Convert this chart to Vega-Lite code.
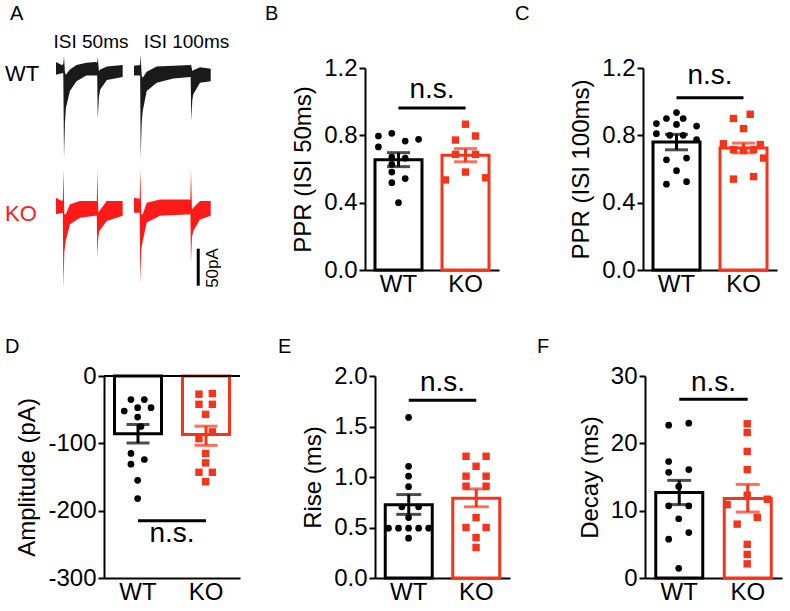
{
"$schema":"https://vega.github.io/schema/vega-lite/v6.json",
"padding":{"left":5,"top":4,"right":5,"bottom":5},
"background":"white",
"config":{"font":"Liberation Sans","view":{"stroke":null},
 "axis":{"domainColor":"black","domainWidth":2,"tickColor":"black","tickWidth":2,"tickSize":6,"labelFontSize":24,"labelColor":"black","titleFontSize":24,"titleFontWeight":"normal","titleColor":"black","grid":false,"labelPadding":2},
 "axisX":{"ticks":false,"labelAngle":0,"labelPadding":2},
 "axisY":{"titlePadding":8},
 "title":{"fontSize":20,"fontWeight":"normal","color":"black","anchor":"start","frame":"group","baseline":"alphabetic"}},
"datasets":{
"summ":[
{"p":"B","g":"WT","mean":0.655,"lo":0.614,"hi":0.697},{"p":"B","g":"KO","mean":0.682,"lo":0.643,"hi":0.721},
{"p":"C","g":"WT","mean":0.76,"lo":0.714,"hi":0.806},{"p":"C","g":"KO","mean":0.725,"lo":0.696,"hi":0.754},
{"p":"D","g":"WT","mean":-85.6,"lo":-99.5,"hi":-72},{"p":"D","g":"KO","mean":-87,"lo":-103,"hi":-74.5},
{"p":"E","g":"WT","mean":0.725,"lo":0.63,"hi":0.826},{"p":"E","g":"KO","mean":0.79,"lo":0.705,"hi":0.882},
{"p":"F","g":"WT","mean":12.7,"lo":10.9,"hi":14.5},{"p":"F","g":"KO","mean":11.8,"lo":9.8,"hi":13.9}],
"points":[
{"p":"B","g":"WT","v":0.796,"col":-6},{"p":"B","g":"WT","v":0.812,"col":-2},{"p":"B","g":"WT","v":0.766,"col":2},{"p":"B","g":"WT","v":0.776,"col":6},{"p":"B","g":"WT","v":0.731,"col":-6},{"p":"B","g":"WT","v":0.671,"col":-2},{"p":"B","g":"WT","v":0.664,"col":2},{"p":"B","g":"WT","v":0.628,"col":-2},{"p":"B","g":"WT","v":0.582,"col":-2},{"p":"B","g":"WT","v":0.519,"col":-2},{"p":"B","g":"WT","v":0.543,"col":2},{"p":"B","g":"WT","v":0.40,"col":0},
{"p":"B","g":"KO","v":0.866,"col":0},{"p":"B","g":"KO","v":0.772,"col":-3},{"p":"B","g":"KO","v":0.796,"col":3},{"p":"B","g":"KO","v":0.687,"col":-3},{"p":"B","g":"KO","v":0.687,"col":3},{"p":"B","g":"KO","v":0.582,"col":0},{"p":"B","g":"KO","v":0.535,"col":-6},{"p":"B","g":"KO","v":0.548,"col":6},
{"p":"C","g":"WT","v":0.935,"col":0},{"p":"C","g":"WT","v":0.90,"col":-3},{"p":"C","g":"WT","v":0.90,"col":2},{"p":"C","g":"WT","v":0.87,"col":-6},{"p":"C","g":"WT","v":0.865,"col":0},{"p":"C","g":"WT","v":0.855,"col":6},{"p":"C","g":"WT","v":0.81,"col":-6},{"p":"C","g":"WT","v":0.80,"col":-2},{"p":"C","g":"WT","v":0.80,"col":2},{"p":"C","g":"WT","v":0.775,"col":6},{"p":"C","g":"WT","v":0.655,"col":-3},{"p":"C","g":"WT","v":0.665,"col":3},{"p":"C","g":"WT","v":0.59,"col":0},{"p":"C","g":"WT","v":0.51,"col":-3},{"p":"C","g":"WT","v":0.525,"col":3},
{"p":"C","g":"KO","v":0.925,"col":2},{"p":"C","g":"KO","v":0.90,"col":-3},{"p":"C","g":"KO","v":0.84,"col":0},{"p":"C","g":"KO","v":0.75,"col":-6},{"p":"C","g":"KO","v":0.745,"col":5},{"p":"C","g":"KO","v":0.715,"col":-3},{"p":"C","g":"KO","v":0.71,"col":0},{"p":"C","g":"KO","v":0.715,"col":3},{"p":"C","g":"KO","v":0.665,"col":6},{"p":"C","g":"KO","v":0.54,"col":-3},{"p":"C","g":"KO","v":0.555,"col":3},
{"p":"D","g":"WT","v":-35,"col":-2},{"p":"D","g":"WT","v":-35,"col":2},{"p":"D","g":"WT","v":-52,"col":-4},{"p":"D","g":"WT","v":-47,"col":0},{"p":"D","g":"WT","v":-47,"col":4},{"p":"D","g":"WT","v":-61,"col":0},{"p":"D","g":"WT","v":-75,"col":1},{"p":"D","g":"WT","v":-115,"col":-2},{"p":"D","g":"WT","v":-124,"col":2},{"p":"D","g":"WT","v":-131,"col":-2},{"p":"D","g":"WT","v":-155,"col":0},{"p":"D","g":"WT","v":-182,"col":0},
{"p":"D","g":"KO","v":-27,"col":-2},{"p":"D","g":"KO","v":-26,"col":2},{"p":"D","g":"KO","v":-42,"col":-2},{"p":"D","g":"KO","v":-42,"col":2},{"p":"D","g":"KO","v":-57,"col":0},{"p":"D","g":"KO","v":-83,"col":2},{"p":"D","g":"KO","v":-93,"col":-2},{"p":"D","g":"KO","v":-115,"col":0},{"p":"D","g":"KO","v":-129,"col":0},{"p":"D","g":"KO","v":-143,"col":-2},{"p":"D","g":"KO","v":-143,"col":2},{"p":"D","g":"KO","v":-157,"col":0},
{"p":"E","g":"WT","v":1.59,"col":0},{"p":"E","g":"WT","v":1.106,"col":0},{"p":"E","g":"WT","v":1.008,"col":0},{"p":"E","g":"WT","v":0.904,"col":0},{"p":"E","g":"WT","v":0.703,"col":-2},{"p":"E","g":"WT","v":0.703,"col":3},{"p":"E","g":"WT","v":0.598,"col":0},{"p":"E","g":"WT","v":0.493,"col":-6},{"p":"E","g":"WT","v":0.493,"col":-3},{"p":"E","g":"WT","v":0.493,"col":0},{"p":"E","g":"WT","v":0.493,"col":3},{"p":"E","g":"WT","v":0.493,"col":6},{"p":"E","g":"WT","v":0.394,"col":0},
{"p":"E","g":"KO","v":1.205,"col":-3},{"p":"E","g":"KO","v":1.205,"col":3},{"p":"E","g":"KO","v":1.106,"col":0},{"p":"E","g":"KO","v":1.008,"col":-3},{"p":"E","g":"KO","v":1.008,"col":3},{"p":"E","g":"KO","v":0.909,"col":-3},{"p":"E","g":"KO","v":0.909,"col":3},{"p":"E","g":"KO","v":0.598,"col":0},{"p":"E","g":"KO","v":0.50,"col":-3},{"p":"E","g":"KO","v":0.50,"col":3},{"p":"E","g":"KO","v":0.40,"col":0},{"p":"E","g":"KO","v":0.302,"col":0},
{"p":"F","g":"WT","v":22.7,"col":-3},{"p":"F","g":"WT","v":23.0,"col":3},{"p":"F","g":"WT","v":17.3,"col":-3},{"p":"F","g":"WT","v":15.7,"col":-3},{"p":"F","g":"WT","v":16.1,"col":3},{"p":"F","g":"WT","v":13.6,"col":0},{"p":"F","g":"WT","v":10.7,"col":-3},{"p":"F","g":"WT","v":10.7,"col":3},{"p":"F","g":"WT","v":8.8,"col":0},{"p":"F","g":"WT","v":6.75,"col":3},{"p":"F","g":"WT","v":5.76,"col":-3},{"p":"F","g":"WT","v":1.43,"col":0},
{"p":"F","g":"KO","v":22.9,"col":0},{"p":"F","g":"KO","v":21.6,"col":0},{"p":"F","g":"KO","v":18.8,"col":0},{"p":"F","g":"KO","v":16.1,"col":0},{"p":"F","g":"KO","v":12.3,"col":0},{"p":"F","g":"KO","v":10.9,"col":-6},{"p":"F","g":"KO","v":11.7,"col":6},{"p":"F","g":"KO","v":9.0,"col":3},{"p":"F","g":"KO","v":8.0,"col":-3},{"p":"F","g":"KO","v":5.0,"col":0},{"p":"F","g":"KO","v":3.5,"col":0},{"p":"F","g":"KO","v":2.1,"col":0}],
"traces":[
{"trace":"WT","seg":"w1","t":0,"lo":-5,"hi":12},{"trace":"WT","seg":"w1","t":8.6,"lo":-3,"hi":8},{"trace":"WT","seg":"w1","t":11,"lo":-3,"hi":9},{"trace":"WT","seg":"w1","t":12.1,"lo":-117.6,"hi":20},{"trace":"WT","seg":"w1","t":13.5,"lo":-70,"hi":-2},{"trace":"WT","seg":"w1","t":15,"lo":-50,"hi":-5},{"trace":"WT","seg":"w1","t":21,"lo":-27,"hi":2},{"trace":"WT","seg":"w1","t":31,"lo":-14,"hi":8},{"trace":"WT","seg":"w1","t":46,"lo":-6,"hi":11},{"trace":"WT","seg":"w1","t":60.5,"lo":-6,"hi":12},{"trace":"WT","seg":"w1","t":62.4,"lo":-6,"hi":11},{"trace":"WT","seg":"w1","t":63.2,"lo":-65,"hi":19},{"trace":"WT","seg":"w1","t":65,"lo":-35,"hi":0},{"trace":"WT","seg":"w1","t":67,"lo":-25,"hi":2},{"trace":"WT","seg":"w1","t":77,"lo":-12,"hi":6},{"trace":"WT","seg":"w1","t":101,"lo":-8,"hi":8},
{"trace":"WT","seg":"w2","t":118.2,"lo":-6,"hi":7},{"trace":"WT","seg":"w2","t":127.5,"lo":-6,"hi":8},{"trace":"WT","seg":"w2","t":128.3,"lo":-118,"hi":22.5},{"trace":"WT","seg":"w2","t":129.8,"lo":-70,"hi":-6},{"trace":"WT","seg":"w2","t":131.4,"lo":-54,"hi":-9},{"trace":"WT","seg":"w2","t":137.4,"lo":-27,"hi":-1},{"trace":"WT","seg":"w2","t":152.6,"lo":-16,"hi":6},{"trace":"WT","seg":"w2","t":177.7,"lo":-10,"hi":7},{"trace":"WT","seg":"w2","t":204,"lo":-8,"hi":8},{"trace":"WT","seg":"w2","t":205,"lo":-67.6,"hi":7},{"trace":"WT","seg":"w2","t":206.5,"lo":-40,"hi":0},{"trace":"WT","seg":"w2","t":208,"lo":-31.5,"hi":1},{"trace":"WT","seg":"w2","t":218.2,"lo":-16,"hi":5},{"trace":"WT","seg":"w2","t":234.4,"lo":-14,"hi":3},
{"trace":"KO","seg":"k1","t":0,"lo":-9,"hi":13.5},{"trace":"KO","seg":"k1","t":8.6,"lo":-7,"hi":9},{"trace":"KO","seg":"k1","t":10.3,"lo":-7,"hi":10},{"trace":"KO","seg":"k1","t":11.1,"lo":-109,"hi":52},{"trace":"KO","seg":"k1","t":12.6,"lo":-60,"hi":-9},{"trace":"KO","seg":"k1","t":14.7,"lo":-45,"hi":-9},{"trace":"KO","seg":"k1","t":21.2,"lo":-22.5,"hi":4.5},{"trace":"KO","seg":"k1","t":36.4,"lo":-13.5,"hi":9},{"trace":"KO","seg":"k1","t":59,"lo":-11,"hi":9},{"trace":"KO","seg":"k1","t":61.8,"lo":-11,"hi":9},{"trace":"KO","seg":"k1","t":62.6,"lo":-67.6,"hi":52},{"trace":"KO","seg":"k1","t":64,"lo":-40,"hi":-6},{"trace":"KO","seg":"k1","t":65.6,"lo":-31.5,"hi":-4.5},{"trace":"KO","seg":"k1","t":76.8,"lo":-18,"hi":9},{"trace":"KO","seg":"k1","t":101,"lo":-11,"hi":9},
{"trace":"KO","seg":"k2","t":118.2,"lo":-6.8,"hi":13.5},{"trace":"KO","seg":"k2","t":126.8,"lo":-6.8,"hi":12},{"trace":"KO","seg":"k2","t":127.7,"lo":-103.5,"hi":52},{"trace":"KO","seg":"k2","t":129.2,"lo":-55,"hi":-9},{"trace":"KO","seg":"k2","t":131.4,"lo":-45,"hi":-9},{"trace":"KO","seg":"k2","t":137.4,"lo":-20,"hi":6.8},{"trace":"KO","seg":"k2","t":157.5,"lo":-11,"hi":11},{"trace":"KO","seg":"k2","t":203.6,"lo":-9,"hi":11},{"trace":"KO","seg":"k2","t":204.5,"lo":-74,"hi":52},{"trace":"KO","seg":"k2","t":206,"lo":-40,"hi":-2},{"trace":"KO","seg":"k2","t":208,"lo":-31.5,"hi":0},{"trace":"KO","seg":"k2","t":218.2,"lo":-15.8,"hi":9},{"trace":"KO","seg":"k2","t":234.4,"lo":-11,"hi":9}]
},
"spacing":41,
"vconcat":[
{"hconcat":[
 {"width":117,"height":202,
  "title":{"text":"A","dx":-94,"offset":9},
  "resolve":{"scale":{"y":"independent"}},
  "layer":[
   {"layer":[
    {"data":{"name":"traces"},"transform":[{"filter":"datum.trace == 'WT'"}],
     "mark":{"type":"area","color":"#1a1a1a","interpolate":"linear"},
     "encoding":{"x":{"field":"t","type":"quantitative","scale":{"domain":[72.7,250],"nice":false,"zero":false},"axis":null},
      "y":{"field":"lo","type":"quantitative","scale":{"domain":[-268.9,4.05],"nice":false,"zero":false},"axis":null},
      "y2":{"field":"hi"},"detail":{"field":"seg"}}},
    {"data":{"values":[{}]},"mark":{"type":"text","align":"left","baseline":"middle","fontSize":22,"color":"black"},
     "encoding":{"x":{"datum":-77.3},"y":{"datum":-4},"text":{"value":"WT"}}},
    {"data":{"values":[{}]},"mark":{"type":"text","align":"center","baseline":"alphabetic","fontSize":19,"color":"black"},
     "encoding":{"x":{"datum":53},"y":{"datum":31},"text":{"value":"ISI 50ms"}}},
    {"data":{"values":[{}]},"mark":{"type":"text","align":"center","baseline":"alphabetic","fontSize":19,"color":"black"},
     "encoding":{"x":{"datum":197.7},"y":{"datum":31},"text":{"value":"ISI 100ms"}}}
   ]},
   {"layer":[
    {"data":{"name":"traces"},"transform":[{"filter":"datum.trace == 'KO'"}],
     "mark":{"type":"area","color":"#FF1A1A","interpolate":"linear"},
     "encoding":{"x":{"field":"t","type":"quantitative"},
      "y":{"field":"lo","type":"quantitative","scale":{"domain":[-84.2,188.8],"nice":false,"zero":false},"axis":null},
      "y2":{"field":"hi"},"detail":{"field":"seg"}}},
    {"data":{"values":[{}]},"mark":{"type":"text","align":"left","baseline":"middle","fontSize":22,"color":"#FF1A1A"},
     "encoding":{"x":{"datum":-77.3},"y":{"datum":-8.5},"text":{"value":"KO"}}},
    {"data":{"values":[{}]},"mark":{"type":"rule","strokeWidth":3,"color":"black"},
     "encoding":{"x":{"datum":215.5},"y":{"datum":-55.4},"y2":{"datum":-105.4}}},
    {"data":{"values":[{}]},"mark":{"type":"text","align":"center","baseline":"middle","fontSize":17,"angle":270,"color":"black"},
     "encoding":{"x":{"datum":238.5},"y":{"datum":-81.5},"text":{"value":"50pA"}}}
   ]}
  ]},
 {"width":134,"height":202,
  "title":{"text":"B","dx":-100,"offset":32},
  "layer":[
   {"data":{"name":"summ"},"transform":[{"filter":"datum.p == 'B'"}],"mark":{"type":"bar","fill":"white","strokeWidth":3,"width":47},
    "encoding":{"x":{"field":"g","type":"nominal","scale":{"domain":["WT","KO"],"paddingInner":0.3,"paddingOuter":0.15},"axis":{"title":null}},
     "y":{"field":"mean","type":"quantitative","scale":{"domain":[0,1.2],"nice":false},"axis":{"values":[0,0.4,0.8,1.2],"format":".1f","title":"PPR (ISI 50ms)"}},
     "stroke":{"field":"g","type":"nominal","scale":{"domain":["WT","KO"],"range":["black","#F5341C"]},"legend":null}}},
   {"data":{"name":"summ"},"transform":[{"filter":"datum.p == 'B'"}],"mark":{"type":"rule","strokeWidth":3},
    "encoding":{"x":{"field":"g","type":"nominal","title":null},"y":{"field":"lo","type":"quantitative"},"y2":{"field":"hi"},
     "color":{"field":"g","type":"nominal","scale":{"domain":["WT","KO"],"range":["black","#F5341C"]},"legend":null}}},
   {"data":{"name":"summ"},"transform":[{"filter":"datum.p == 'B'"}],"mark":{"type":"tick","thickness":3,"size":23},
    "encoding":{"x":{"field":"g","type":"nominal","title":null},"y":{"field":"hi","type":"quantitative"},"color":{"field":"g","type":"nominal","legend":null}}},
   {"data":{"name":"summ"},"transform":[{"filter":"datum.p == 'B'"}],"mark":{"type":"tick","thickness":3,"size":23},
    "encoding":{"x":{"field":"g","type":"nominal","title":null},"y":{"field":"lo","type":"quantitative"},"color":{"field":"g","type":"nominal","legend":null}}},
   {"data":{"name":"points"},"transform":[{"filter":"datum.p == 'B'"}],"mark":{"type":"point","filled":true,"opacity":1},
    "encoding":{"x":{"field":"g","type":"nominal","title":null},
     "xOffset":{"field":"col","type":"ordinal","scale":{"domain":[-7,-6,-5,-4,-3,-2,-1,0,1,2,3,4,5,6,7],"paddingInner":0,"paddingOuter":0}},
     "y":{"field":"v","type":"quantitative"},
     "color":{"field":"g","type":"nominal","legend":null},
     "shape":{"field":"g","type":"nominal","scale":{"domain":["WT","KO"],"range":["circle","square"]},"legend":null},
     "size":{"field":"g","type":"nominal","scale":{"domain":["WT","KO"],"range":[45,55]},"legend":null}}},
   {"data":{"values":[{}]},"mark":{"type":"rule","strokeWidth":3,"color":"black"},
    "encoding":{"x":{"datum":"WT"},"x2":{"datum":"KO"},"y":{"datum":0.963}}},
   {"data":{"values":[{}]},"mark":{"type":"text","fontSize":28,"dx":33.5,"align":"center","baseline":"alphabetic","color":"black"},
    "encoding":{"x":{"datum":"WT"},"y":{"datum":1.024},"text":{"value":"n.s."}}}
  ]},
 {"width":134,"height":202,
  "title":{"text":"C","dx":-128,"offset":32},
  "layer":[
   {"data":{"name":"summ"},"transform":[{"filter":"datum.p == 'C'"}],"mark":{"type":"bar","fill":"white","strokeWidth":3,"width":47},
    "encoding":{"x":{"field":"g","type":"nominal","scale":{"domain":["WT","KO"],"paddingInner":0.3,"paddingOuter":0.15},"axis":{"title":null}},
     "y":{"field":"mean","type":"quantitative","scale":{"domain":[0,1.2],"nice":false},"axis":{"values":[0,0.4,0.8,1.2],"format":".1f","title":"PPR (ISI 100ms)"}},
     "stroke":{"field":"g","type":"nominal","scale":{"domain":["WT","KO"],"range":["black","#F5341C"]},"legend":null}}},
   {"data":{"name":"summ"},"transform":[{"filter":"datum.p == 'C'"}],"mark":{"type":"rule","strokeWidth":3},
    "encoding":{"x":{"field":"g","type":"nominal","title":null},"y":{"field":"lo","type":"quantitative"},"y2":{"field":"hi"},
     "color":{"field":"g","type":"nominal","scale":{"domain":["WT","KO"],"range":["black","#F5341C"]},"legend":null}}},
   {"data":{"name":"summ"},"transform":[{"filter":"datum.p == 'C'"}],"mark":{"type":"tick","thickness":3,"size":23},
    "encoding":{"x":{"field":"g","type":"nominal","title":null},"y":{"field":"hi","type":"quantitative"},"color":{"field":"g","type":"nominal","legend":null}}},
   {"data":{"name":"summ"},"transform":[{"filter":"datum.p == 'C'"}],"mark":{"type":"tick","thickness":3,"size":23},
    "encoding":{"x":{"field":"g","type":"nominal","title":null},"y":{"field":"lo","type":"quantitative"},"color":{"field":"g","type":"nominal","legend":null}}},
   {"data":{"name":"points"},"transform":[{"filter":"datum.p == 'C'"}],"mark":{"type":"point","filled":true,"opacity":1},
    "encoding":{"x":{"field":"g","type":"nominal","title":null},
     "xOffset":{"field":"col","type":"ordinal","scale":{"domain":[-7,-6,-5,-4,-3,-2,-1,0,1,2,3,4,5,6,7],"paddingInner":0,"paddingOuter":0}},
     "y":{"field":"v","type":"quantitative"},
     "color":{"field":"g","type":"nominal","legend":null},
     "shape":{"field":"g","type":"nominal","scale":{"domain":["WT","KO"],"range":["circle","square"]},"legend":null},
     "size":{"field":"g","type":"nominal","scale":{"domain":["WT","KO"],"range":[42,48]},"legend":null}}},
   {"data":{"values":[{}]},"mark":{"type":"rule","strokeWidth":3,"color":"black"},
    "encoding":{"x":{"datum":"WT"},"x2":{"datum":"KO"},"y":{"datum":1.024}}},
   {"data":{"values":[{}]},"mark":{"type":"text","fontSize":28,"dx":33.5,"align":"center","baseline":"alphabetic","color":"black"},
    "encoding":{"x":{"datum":"WT"},"y":{"datum":1.103},"text":{"value":"n.s."}}}
  ]}
],"spacing":144,"bounds":"flush"},
{"hconcat":[
 {"width":136,"height":202,
  "title":{"text":"D","dx":-99,"offset":7},
  "layer":[
   {"data":{"name":"summ"},"transform":[{"filter":"datum.p == 'D'"}],"mark":{"type":"bar","fill":"white","strokeWidth":3,"width":47},
    "encoding":{"x":{"field":"g","type":"nominal","scale":{"domain":["WT","KO"],"paddingInner":0.3,"paddingOuter":0.15},"axis":{"title":null}},
     "y":{"field":"mean","type":"quantitative","scale":{"domain":[-300,0],"nice":false},"axis":{"values":[-300,-200,-100,0],"labelExpr":"replace(datum.label, '\u2212', '-')","title":"Amplitude (pA)"}},
     "stroke":{"field":"g","type":"nominal","scale":{"domain":["WT","KO"],"range":["black","#F5341C"]},"legend":null}}},
   {"data":{"values":[{}]},"mark":{"type":"rule","strokeWidth":2,"color":"black"},"encoding":{"y":{"datum":0}}},
   {"data":{"name":"summ"},"transform":[{"filter":"datum.p == 'D'"}],"mark":{"type":"rule","strokeWidth":3},
    "encoding":{"x":{"field":"g","type":"nominal","title":null},"y":{"field":"lo","type":"quantitative"},"y2":{"field":"hi"},
     "color":{"field":"g","type":"nominal","scale":{"domain":["WT","KO"],"range":["black","#F5341C"]},"legend":null}}},
   {"data":{"name":"summ"},"transform":[{"filter":"datum.p == 'D'"}],"mark":{"type":"tick","thickness":3,"size":23},
    "encoding":{"x":{"field":"g","type":"nominal","title":null},"y":{"field":"hi","type":"quantitative"},"color":{"field":"g","type":"nominal","legend":null}}},
   {"data":{"name":"summ"},"transform":[{"filter":"datum.p == 'D'"}],"mark":{"type":"tick","thickness":3,"size":23},
    "encoding":{"x":{"field":"g","type":"nominal","title":null},"y":{"field":"lo","type":"quantitative"},"color":{"field":"g","type":"nominal","legend":null}}},
   {"data":{"name":"points"},"transform":[{"filter":"datum.p == 'D'"}],"mark":{"type":"point","filled":true,"opacity":1},
    "encoding":{"x":{"field":"g","type":"nominal","title":null},
     "xOffset":{"field":"col","type":"ordinal","scale":{"domain":[-7,-6,-5,-4,-3,-2,-1,0,1,2,3,4,5,6,7],"paddingInner":0,"paddingOuter":0}},
     "y":{"field":"v","type":"quantitative"},
     "color":{"field":"g","type":"nominal","legend":null},
     "shape":{"field":"g","type":"nominal","scale":{"domain":["WT","KO"],"range":["circle","square"]},"legend":null},
     "size":{"field":"g","type":"nominal","scale":{"domain":["WT","KO"],"range":[18,28]},"legend":null}}},
   {"data":{"values":[{}]},"mark":{"type":"rule","strokeWidth":3,"color":"black"},
    "encoding":{"x":{"datum":"WT"},"x2":{"datum":"KO"},"y":{"datum":-215}}},
   {"data":{"values":[{}]},"mark":{"type":"text","fontSize":28,"dx":34,"align":"center","baseline":"alphabetic","color":"black"},
    "encoding":{"x":{"datum":"WT"},"y":{"datum":-247},"text":{"value":"n.s."}}}
  ]},
 {"width":135,"height":202,
  "title":{"text":"E","dx":-97,"offset":7},
  "layer":[
   {"data":{"name":"summ"},"transform":[{"filter":"datum.p == 'E'"}],"mark":{"type":"bar","fill":"white","strokeWidth":3,"width":47},
    "encoding":{"x":{"field":"g","type":"nominal","scale":{"domain":["WT","KO"],"paddingInner":0.3,"paddingOuter":0.15},"axis":{"title":null}},
     "y":{"field":"mean","type":"quantitative","scale":{"domain":[0,2],"nice":false},"axis":{"values":[0,0.5,1,1.5,2],"format":".1f","title":"Rise (ms)"}},
     "stroke":{"field":"g","type":"nominal","scale":{"domain":["WT","KO"],"range":["black","#F5341C"]},"legend":null}}},
   {"data":{"name":"summ"},"transform":[{"filter":"datum.p == 'E'"}],"mark":{"type":"rule","strokeWidth":3},
    "encoding":{"x":{"field":"g","type":"nominal","title":null},"y":{"field":"lo","type":"quantitative"},"y2":{"field":"hi"},
     "color":{"field":"g","type":"nominal","scale":{"domain":["WT","KO"],"range":["black","#F5341C"]},"legend":null}}},
   {"data":{"name":"summ"},"transform":[{"filter":"datum.p == 'E'"}],"mark":{"type":"tick","thickness":3,"size":25},
    "encoding":{"x":{"field":"g","type":"nominal","title":null},"y":{"field":"hi","type":"quantitative"},"color":{"field":"g","type":"nominal","legend":null}}},
   {"data":{"name":"summ"},"transform":[{"filter":"datum.p == 'E'"}],"mark":{"type":"tick","thickness":3,"size":25},
    "encoding":{"x":{"field":"g","type":"nominal","title":null},"y":{"field":"lo","type":"quantitative"},"color":{"field":"g","type":"nominal","legend":null}}},
   {"data":{"name":"points"},"transform":[{"filter":"datum.p == 'E'"}],"mark":{"type":"point","filled":true,"opacity":1},
    "encoding":{"x":{"field":"g","type":"nominal","title":null},
     "xOffset":{"field":"col","type":"ordinal","scale":{"domain":[-7,-6,-5,-4,-3,-2,-1,0,1,2,3,4,5,6,7],"paddingInner":0,"paddingOuter":0}},
     "y":{"field":"v","type":"quantitative"},
     "color":{"field":"g","type":"nominal","legend":null},
     "shape":{"field":"g","type":"nominal","scale":{"domain":["WT","KO"],"range":["circle","square"]},"legend":null},
     "size":{"field":"g","type":"nominal","scale":{"domain":["WT","KO"],"range":[46,58]},"legend":null}}},
   {"data":{"values":[{}]},"mark":{"type":"rule","strokeWidth":3,"color":"black"},
    "encoding":{"x":{"datum":"WT"},"x2":{"datum":"KO"},"y":{"datum":1.76}}},
   {"data":{"values":[{}]},"mark":{"type":"text","fontSize":28,"dx":33.75,"align":"center","baseline":"alphabetic","color":"black"},
    "encoding":{"x":{"datum":"WT"},"y":{"datum":1.855},"text":{"value":"n.s."}}}
  ]},
 {"width":137,"height":202,
  "title":{"text":"F","dx":-108,"offset":7},
  "layer":[
   {"data":{"name":"summ"},"transform":[{"filter":"datum.p == 'F'"}],"mark":{"type":"bar","fill":"white","strokeWidth":3,"width":47},
    "encoding":{"x":{"field":"g","type":"nominal","scale":{"domain":["WT","KO"],"paddingInner":0.3,"paddingOuter":0.15},"axis":{"title":null}},
     "y":{"field":"mean","type":"quantitative","scale":{"domain":[0,30],"nice":false},"axis":{"values":[0,10,20,30],"title":"Decay (ms)"}},
     "stroke":{"field":"g","type":"nominal","scale":{"domain":["WT","KO"],"range":["black","#F5341C"]},"legend":null}}},
   {"data":{"name":"summ"},"transform":[{"filter":"datum.p == 'F'"}],"mark":{"type":"rule","strokeWidth":3},
    "encoding":{"x":{"field":"g","type":"nominal","title":null},"y":{"field":"lo","type":"quantitative"},"y2":{"field":"hi"},
     "color":{"field":"g","type":"nominal","scale":{"domain":["WT","KO"],"range":["black","#F5341C"]},"legend":null}}},
   {"data":{"name":"summ"},"transform":[{"filter":"datum.p == 'F'"}],"mark":{"type":"tick","thickness":3,"size":24},
    "encoding":{"x":{"field":"g","type":"nominal","title":null},"y":{"field":"hi","type":"quantitative"},"color":{"field":"g","type":"nominal","legend":null}}},
   {"data":{"name":"summ"},"transform":[{"filter":"datum.p == 'F'"}],"mark":{"type":"tick","thickness":3,"size":24},
    "encoding":{"x":{"field":"g","type":"nominal","title":null},"y":{"field":"lo","type":"quantitative"},"color":{"field":"g","type":"nominal","legend":null}}},
   {"data":{"name":"points"},"transform":[{"filter":"datum.p == 'F'"}],"mark":{"type":"point","filled":true,"opacity":1},
    "encoding":{"x":{"field":"g","type":"nominal","title":null},
     "xOffset":{"field":"col","type":"ordinal","scale":{"domain":[-7,-6,-5,-4,-3,-2,-1,0,1,2,3,4,5,6,7],"paddingInner":0,"paddingOuter":0}},
     "y":{"field":"v","type":"quantitative"},
     "color":{"field":"g","type":"nominal","legend":null},
     "shape":{"field":"g","type":"nominal","scale":{"domain":["WT","KO"],"range":["circle","square"]},"legend":null},
     "size":{"field":"g","type":"nominal","scale":{"domain":["WT","KO"],"range":[44,48]},"legend":null}}},
   {"data":{"values":[{}]},"mark":{"type":"rule","strokeWidth":3,"color":"black"},
    "encoding":{"x":{"datum":"WT"},"x2":{"datum":"KO"},"y":{"datum":26.56}}},
   {"data":{"values":[{}]},"mark":{"type":"text","fontSize":28,"dx":34.25,"align":"center","baseline":"alphabetic","color":"black"},
    "encoding":{"x":{"datum":"WT"},"y":{"datum":27.7},"text":{"value":"n.s."}}}
  ]}
],"spacing":135,"bounds":"flush"}
]
}
